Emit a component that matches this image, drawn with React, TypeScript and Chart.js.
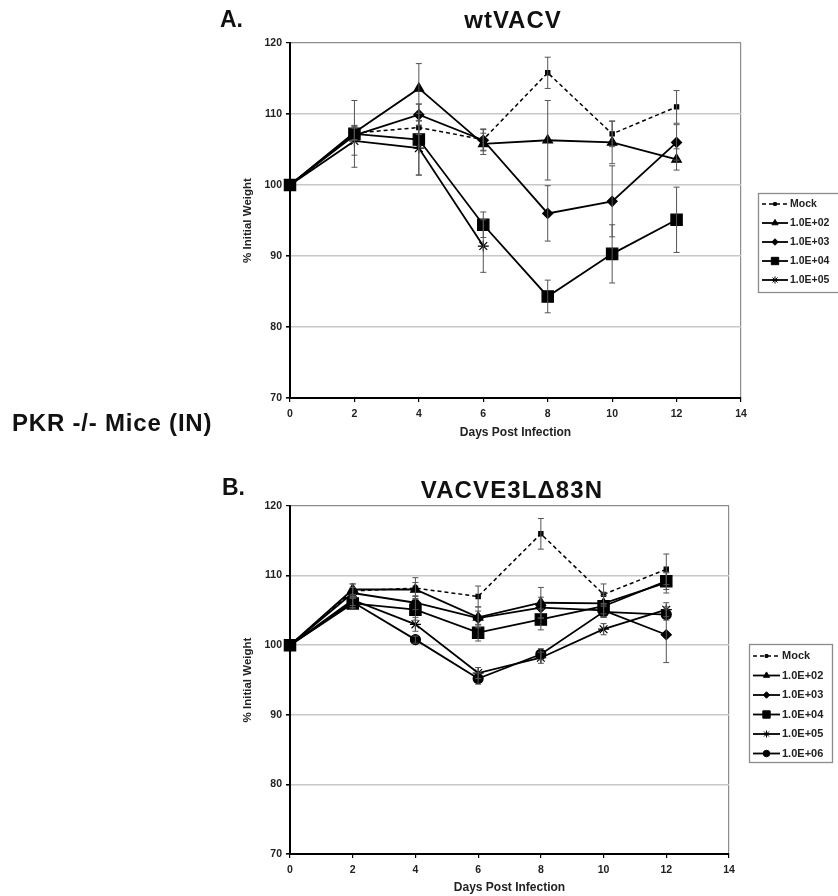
import React, { useEffect, useRef } from 'react';
import { Chart, registerables } from 'chart.js';
import { drawPoint } from 'chart.js/helpers';

Chart.register(...registerables);

const FONT = "'Liberation Sans', Arial, Helvetica, sans-serif";

// ---------- data ----------
const days = [0, 2, 4, 6, 8, 10, 12];
const xTickValues = [0, 2, 4, 6, 8, 10, 12, 14];
const yTickValues = [70, 80, 90, 100, 110, 120];

const legendLabelsA = ['Mock', '1.0E+02', '1.0E+03', '1.0E+04', '1.0E+05'];
const legendLabelsB = ['Mock', '1.0E+02', '1.0E+03', '1.0E+04', '1.0E+05', '1.0E+06'];

// Panel A: wtVACV
const aMock = [100, 107.3, 108.1, 106.4, 115.8, 107.2, 111.0];
const aMockErr = [0, 1.0, 1.0, 1.5, 2.2, 1.8, 2.3];
const aE2 = [100, 107.4, 113.6, 105.8, 106.3, 106.0, 103.6];
const aE2Err = [0, 1.0, 3.5, 1.5, 5.6, 3.0, 1.5];
const aE3 = [100, 107.0, 109.9, 106.3, 96.0, 97.7, 106.0];
const aE3Err = [0, 1.0, 1.5, 1.5, 3.9, 5.0, 2.5];
const aE4 = [100, 107.2, 106.4, 94.4, 84.3, 90.3, 95.1];
const aE4Err = [0, 4.7, 5.0, 1.8, 2.3, 4.1, 4.6];
const aE5 = [100, 106.2, 105.2, 91.4, null, null, null];
const aE5Err = [0, 2.0, 3.8, 3.7, 0, 0, 0];

// Panel B: VACVE3LΔ83N
const bMock = [100, 107.8, 108.2, 107.0, 116.0, 107.3, 110.9];
const bMockErr = [0, 1.0, 1.5, 1.5, 2.2, 1.5, 2.2];
const bE2 = [100, 108.0, 108.0, 104.0, 106.1, 106.0, 109.0];
const bE2Err = [0, 0.8, 1.0, 1.5, 2.2, 1.5, 1.5];
const bE3 = [100, 107.5, 106.1, 103.9, 105.4, 105.0, 101.5];
const bE3Err = [0, 0.8, 1.0, 1.0, 1.5, 1.0, 4.0];
const bE4 = [100, 106.0, 105.1, 101.8, 103.7, 105.6, 109.2];
const bE4Err = [0, 0.8, 1.5, 1.2, 1.5, 1.5, 1.2];
const bE5 = [100, 106.5, 103.0, 96.0, 98.2, 102.3, 105.1];
const bE5Err = [0, 0.8, 1.0, 0.8, 0.8, 0.8, 1.0];
const bE6 = [100, 106.2, 100.8, 95.2, 98.7, 104.8, 104.4];
const bE6Err = [0, 0.8, 0.5, 0.8, 0.8, 0.8, 0.8];

// ---------- styles ----------
const markerStyles: Record<string, { pointStyle: string; radius: number; dash: number[] }> = {
  'Mock': { pointStyle: 'rect', radius: 3, dash: [4, 3] },
  '1.0E+02': { pointStyle: 'triangle', radius: 5.5, dash: [] },
  '1.0E+03': { pointStyle: 'rectRot', radius: 5, dash: [] },
  '1.0E+04': { pointStyle: 'rect', radius: 8, dash: [] },
  '1.0E+05': { pointStyle: 'star', radius: 5.5, dash: [] },
  '1.0E+06': { pointStyle: 'circle', radius: 5, dash: [] },
};

function makeDataset(label: string, values: (number | null)[], errs: number[]) {
  const st = markerStyles[label];
  return {
    label,
    data: days.map((d, i) => ({ x: d, y: values[i] })),
    errors: errs,
    borderColor: '#000',
    backgroundColor: '#000',
    borderWidth: label === 'Mock' ? 1.5 : 1.8,
    borderDash: st.dash,
    pointStyle: st.pointStyle,
    pointRadius: st.radius,
    pointBorderWidth: 1.2,
    pointBackgroundColor: '#000',
    pointBorderColor: '#000',
    tension: 0,
    spanGaps: false,
    clip: false as any,
  };
}

// ---------- plugins ----------
const errorBarPlugin = {
  id: 'errorBars',
  afterDatasetsDraw(chart: any) {
    const ctx = chart.ctx;
    const yScale = chart.scales.y;
    ctx.save();
    ctx.strokeStyle = '#555';
    ctx.lineWidth = 1;
    chart.data.datasets.forEach((ds: any, di: number) => {
      const meta = chart.getDatasetMeta(di);
      meta.data.forEach((el: any, i: number) => {
        const v = ds.data[i].y;
        const e = ds.errors ? ds.errors[i] : 0;
        if (v == null || !e) return;
        const x = el.x;
        const yt = yScale.getPixelForValue(v + e);
        const yb = yScale.getPixelForValue(v - e);
        ctx.beginPath();
        ctx.moveTo(x, yt);
        ctx.lineTo(x, yb);
        ctx.moveTo(x - 3, yt);
        ctx.lineTo(x + 3, yt);
        ctx.moveTo(x - 3, yb);
        ctx.lineTo(x + 3, yb);
        ctx.stroke();
      });
    });
    ctx.restore();
  },
};

const boxLegendPlugin = {
  id: 'boxLegend',
  afterDraw(chart: any, _args: any, opts: any) {
    if (!opts || !opts.box) return;
    const ctx = chart.ctx;
    ctx.save();
    ctx.strokeStyle = '#8c8c8c';
    ctx.lineWidth = 1.3;
    const b = opts.box;
    ctx.strokeRect(b.x + 0.5, b.y + 0.5, b.w, b.h);
    chart.data.datasets.forEach((ds: any, i: number) => {
      const yy = opts.firstY + i * opts.step;
      ctx.beginPath();
      ctx.setLineDash(ds.borderDash || []);
      ctx.lineWidth = ds.borderWidth;
      ctx.strokeStyle = '#000';
      ctx.moveTo(opts.lineX0, yy);
      ctx.lineTo(opts.lineX1, yy);
      ctx.stroke();
      ctx.setLineDash([]);
      ctx.fillStyle = '#000';
      ctx.strokeStyle = '#000';
      ctx.lineWidth = 1;
      drawPoint(ctx, { pointStyle: ds.pointStyle, radius: ds.pointRadius * 0.65, rotation: 0, borderWidth: 1 } as any,
        (opts.lineX0 + opts.lineX1) / 2, yy);
      ctx.fillStyle = '#222';
      ctx.font = `bold ${opts.fontSize}px ${FONT}`;
      ctx.textBaseline = 'middle';
      ctx.textAlign = 'left';
      ctx.fillText(ds.label, opts.textX, yy);
    });
    ctx.restore();
  },
};

function makeConfig(datasets: any[], padding: any, xAxisHeight: number, xTitlePad: number, legend: any) {
  return {
    type: 'line',
    data: { datasets },
    plugins: [errorBarPlugin, boxLegendPlugin],
    options: {
      animation: false,
      responsive: false,
      maintainAspectRatio: false,
      layout: { padding },
      plugins: {
        legend: { display: false },
        tooltip: { enabled: false },
        title: { display: false },
        boxLegend: legend,
      },
      scales: {
        x: {
          type: 'linear',
          min: 0,
          max: 14,
          afterBuildTicks: (s: any) => { s.ticks = xTickValues.map((v) => ({ value: v })); },
          afterFit: (s: any) => { s.height = xAxisHeight; },
          ticks: {
            color: '#222',
            padding: 6,
            font: { family: FONT, size: 10.5, weight: 'bold' },
          },
          grid: {
            color: (c: any) => (c.tick && c.tick.value === 14 ? '#8c8c8c' : 'rgba(0,0,0,0)'),
            lineWidth: 1.2,
            tickColor: '#000',
            tickLength: 4,
          },
          border: { color: '#000', width: 2 },
          title: {
            display: true,
            text: 'Days Post Infection',
            color: '#222',
            font: { family: FONT, size: 12, weight: 'bold' },
            padding: { top: 0, bottom: xTitlePad },
          },
        },
        y: {
          min: 70,
          max: 120,
          afterBuildTicks: (s: any) => { s.ticks = yTickValues.map((v) => ({ value: v })); },
          afterFit: (s: any) => { s.width = 60; },
          ticks: {
            color: '#222',
            padding: 4,
            font: { family: FONT, size: 10.5, weight: 'bold' },
          },
          grid: {
            color: (c: any) => (c.tick && c.tick.value === 120 ? '#8c8c8c' : '#c8c8c8'),
            lineWidth: (c: any) => (c.tick && c.tick.value === 120 ? 1.2 : 1.6),
            tickColor: '#000',
            tickLength: 4,
          },
          border: { color: '#000', width: 2 },
          title: {
            display: true,
            text: '% Initial Weight',
            color: '#222',
            font: { family: FONT, size: 11.5, weight: 'bold' },
            padding: { top: 11, bottom: 0 },
          },
        },
      },
    },
  };
}

function ChartCanvas({ config, left, top, width, height }: any) {
  const ref = useRef<HTMLCanvasElement>(null);
  useEffect(() => {
    const chart = new Chart(ref.current as HTMLCanvasElement, config);
    return () => chart.destroy();
  }, []);
  return (
    <canvas
      ref={ref}
      width={width}
      height={height}
      style={{ position: 'absolute', left, top, width, height }}
    />
  );
}

const textStyle: React.CSSProperties = {
  position: 'absolute',
  fontFamily: FONT,
  fontWeight: 'bold',
  color: '#111',
  whiteSpace: 'nowrap',
  lineHeight: 1,
};

export default function App() {
  const dsA = [
    makeDataset(legendLabelsA[0], aMock, aMockErr),
    makeDataset(legendLabelsA[1], aE2, aE2Err),
    makeDataset(legendLabelsA[2], aE3, aE3Err),
    makeDataset(legendLabelsA[3], aE4, aE4Err),
    makeDataset(legendLabelsA[4], aE5, aE5Err),
  ];
  const dsB = [
    makeDataset(legendLabelsB[0], bMock, bMockErr),
    makeDataset(legendLabelsB[1], bE2, bE2Err),
    makeDataset(legendLabelsB[2], bE3, bE3Err),
    makeDataset(legendLabelsB[3], bE4, bE4Err),
    makeDataset(legendLabelsB[4], bE5, bE5Err),
    makeDataset(legendLabelsB[5], bE6, bE6Err),
  ];

  const cfgA = makeConfig(dsA, { left: 230, right: 97, top: 43, bottom: 2 }, 45, 3, {
    box: { x: 758, y: 193, w: 90, h: 99 },
    firstY: 204, step: 19, lineX0: 762, lineX1: 788, textX: 790, fontSize: 10.5,
  });
  const cfgB = makeConfig(dsB, { left: 230, right: 109, top: 61, bottom: 1 }, 41, 0, {
    box: { x: 749, y: 199, w: 83, h: 118 },
    firstY: 211, step: 19.5, lineX0: 753, lineX1: 780, textX: 782, fontSize: 11,
  });

  return (
    <div style={{ position: 'fixed', left: 0, top: 0, width: 838, height: 896, background: '#fff', overflow: 'hidden' }}>
      <ChartCanvas config={cfgA} left={0} top={0} width={838} height={445} />
      <ChartCanvas config={cfgB} left={0} top={445} width={838} height={451} />
      <div style={{ ...textStyle, left: 220, top: 8, fontSize: 23 }}>A.</div>
      <div style={{ ...textStyle, left: 513, top: 8, fontSize: 24, letterSpacing: 1, transform: 'translateX(-50%)' }}>wtVACV</div>
      <div style={{ ...textStyle, left: 12, top: 411, fontSize: 24, letterSpacing: 0.8 }}>PKR -/- Mice (IN)</div>
      <div style={{ ...textStyle, left: 222, top: 476, fontSize: 23 }}>B.</div>
      <div style={{ ...textStyle, left: 512, top: 478, fontSize: 24, letterSpacing: 1.1, transform: 'translateX(-50%)' }}>VACVE3LΔ83N</div>
    </div>
  );
}
